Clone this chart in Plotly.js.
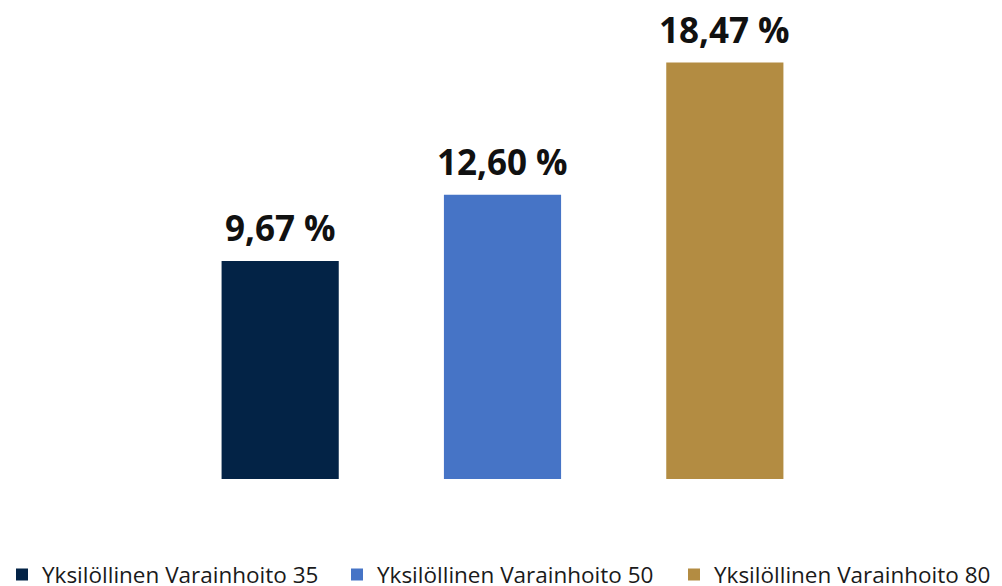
<!DOCTYPE html>
<html>
<head>
<meta charset="utf-8">
<script src="https://cdn.plot.ly/plotly-3.0.1.min.js"></script>
<style>
html,body{margin:0;padding:0;background:#fff;}
#chart{width:1002px;height:586px;}
</style>
</head>
<body>
<div id="chart"></div>
<script>
var seriesNames = ["Yksilöllinen Varainhoito 35", "Yksilöllinen Varainhoito 50", "Yksilöllinen Varainhoito 80"];
var seriesValues = [9.67, 12.60, 18.47];
var seriesColors = ["#032346", "#4674C6", "#B38C42"];

function fmt(v){ return v.toFixed(2).replace(".", ",") + " %"; }

var legendIds = ["legend", "legend2", "legend3"];
var legendX = [2 / 1002, 337 / 1002, 674 / 1002];

var traces = seriesNames.map(function(name, i){
  return {
    type: "bar",
    x: [i],
    y: [seriesValues[i]],
    width: 0.527,
    name: name,
    legend: legendIds[i],
    marker: {color: seriesColors[i]},
    hoverinfo: "none"
  };
});

var annotations = seriesNames.map(function(name, i){
  return {
    x: i, y: seriesValues[i], xref: "x", yref: "y",
    text: "<b>" + fmt(seriesValues[i]) + "</b>",
    showarrow: false, yanchor: "bottom", yshift: 8,
    font: {family: "Open Sans, sans-serif", size: 35, color: "#111"}
  };
});

var layout = {
  width: 1002, height: 586,
  margin: {l: 169, r: 166, t: 28, b: 107, autoexpand: false},
  paper_bgcolor: "#fff", plot_bgcolor: "#fff",
  barmode: "overlay",
  xaxis: {visible: false, range: [-0.5, 2.5], fixedrange: true},
  yaxis: {visible: false, range: [0, 20], fixedrange: true},
  showlegend: true,
  annotations: annotations
};

legendIds.forEach(function(id, i){
  layout[id] = {
    orientation: "h", x: legendX[i], xanchor: "left", xref: "container",
    y: -0.165, yanchor: "top",
    bgcolor: "rgba(0,0,0,0)",
    font: {family: "Open Sans, sans-serif", size: 22.5, color: "#1a1a1a"},
    itemclick: false
  };
});

Plotly.newPlot("chart", traces, layout, {staticPlot: true, displayModeBar: false});
</script>
</body>
</html>
